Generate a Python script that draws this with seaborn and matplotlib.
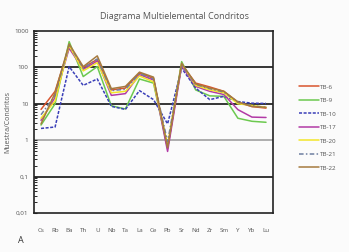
import matplotlib
matplotlib.use("Agg")
import matplotlib.pyplot as plt
import matplotlib.ticker as mticker
import pandas as pd
import seaborn as sns

elements = ["Cs", "Rb", "Ba", "Th", "U", "Nb", "Ta", "La", "Ce", "Pb",
            "Sr", "Nd", "Zr", "Sm", "Y", "Yb", "Lu"]

tb6 = [7.0, 22, 370, 99, 166, 24, 27, 70, 50, 0.6, 120, 37, 29, 22, 10.9, 8.4, 7.6]
tb9 = [2.6, 10, 510, 56, 105, 8.8, 7.2, 48, 37, 0.6, 144, 24, 16.5, 16, 4.0, 3.3, 3.1]
tb10 = [2.1, 2.3, 105, 32, 48, 8.5, 7.0, 23, 13, 2.8, 95, 27, 13, 16, 11.5, 10.4, 10.2]
tb17 = [3.5, 15, 336, 88, 150, 17, 19, 63, 45, 0.49, 110, 30, 22, 18, 6.9, 4.3, 4.2]
tb20 = [4.0, 12, 400, 80, 135, 20, 22, 58, 40, 0.75, 125, 32, 24, 20, 10, 9.0, 8.0]
tb21 = [5.0, 17, 420, 95, 170, 23, 25, 68, 48, 0.9, 118, 34, 26, 21, 11, 8.8, 8.0]
tb22 = [2.8, 20, 440, 105, 207, 26, 30, 74, 54, 0.62, 130, 35, 27, 22, 11.3, 8.4, 8.0]

samples = ["TB-6", "TB-9", "TB-10", "TB-17", "TB-20", "TB-21", "TB-22"]
values = [tb6, tb9, tb10, tb17, tb20, tb21, tb22]

y_ticks = [0.01, 0.1, 1, 10, 100, 1000]
y_labels = ["0,01", "0,1", "1", "10", "100", "1000"]

colors = ["#d9552e", "#6cc94f", "#3a3fb8", "#b23aa6", "#f2e52a", "#6e7fa0", "#a57a3e"]
styles = ["-", "-", (0, (2, 1)), "-", "-", (0, (3, 1.5, 1, 1.5)), "-"]

rows = []
for name, vals in zip(samples, values):
    for el, v in zip(elements, vals):
        rows.append({"Elemento": el, "Valor": v, "Muestra": name})
df = pd.DataFrame(rows)

sns.set_theme(style="white")
plt.rcParams["font.family"] = ["Open Sans", "DejaVu Sans"]

fig = plt.figure(figsize=(3.49, 2.52), dpi=100)
fig.patch.set_facecolor("#fbfbfb")
ax = fig.add_axes([0.0974, 0.155, 0.685, 0.722])
ax.set_facecolor("#fbfbfb")

for name, col, ls in zip(samples, colors, styles):
    sub = df[df["Muestra"] == name]
    sns.lineplot(data=sub, x="Elemento", y="Valor", color=col, linestyle=ls,
                 linewidth=1.1, label=name, ax=ax, sort=False)

ax.set_yscale("log")
ax.set_ylim(0.01, 1000)
ax.set_xlim(-0.5, len(elements) - 0.5)

for yv in [0.1, 10, 100]:
    ax.axhline(yv, color="black", linewidth=1.1, zorder=0)
ax.axhline(1, color="#999999", linewidth=1.1, zorder=0)

ax.yaxis.set_major_locator(mticker.FixedLocator(y_ticks))
ax.yaxis.set_major_formatter(mticker.FixedFormatter(y_labels))
ax.yaxis.set_minor_locator(mticker.LogLocator(base=10, subs=range(2, 10), numticks=20))
ax.yaxis.set_minor_formatter(mticker.NullFormatter())
ax.tick_params(axis="y", which="major", direction="in", left=True, labelsize=4.5,
               labelcolor="#555555", length=2.5, width=0.8, pad=4)
ax.tick_params(axis="y", which="minor", direction="in", left=True, labelleft=False,
               length=2.0, width=0.7)
ax.tick_params(axis="x", bottom=False, labelsize=4.5, labelcolor="#555555", pad=5)

for sp in ax.spines.values():
    sp.set_color("#222222")
    sp.set_linewidth(1.2)

ax.set_xlabel("")
ax.set_ylabel("Muestra/Condritos", fontsize=5, color="#555555", labelpad=2)
fig.text(0.5, 0.935, "Diagrama Multielemental Condritos", ha="center", va="center",
         fontsize=6.5, color="#555555")
fig.text(0.06, 0.045, "A", ha="center", va="center", fontsize=6.5, color="#333333")

ax.legend(loc="center left", bbox_to_anchor=(1.085, 0.47), frameon=False,
          fontsize=4.5, handlelength=3.2, handletextpad=0.2, labelspacing=1.3,
          labelcolor="#555555")

fig.savefig("out.png", dpi=100, facecolor=fig.get_facecolor())
